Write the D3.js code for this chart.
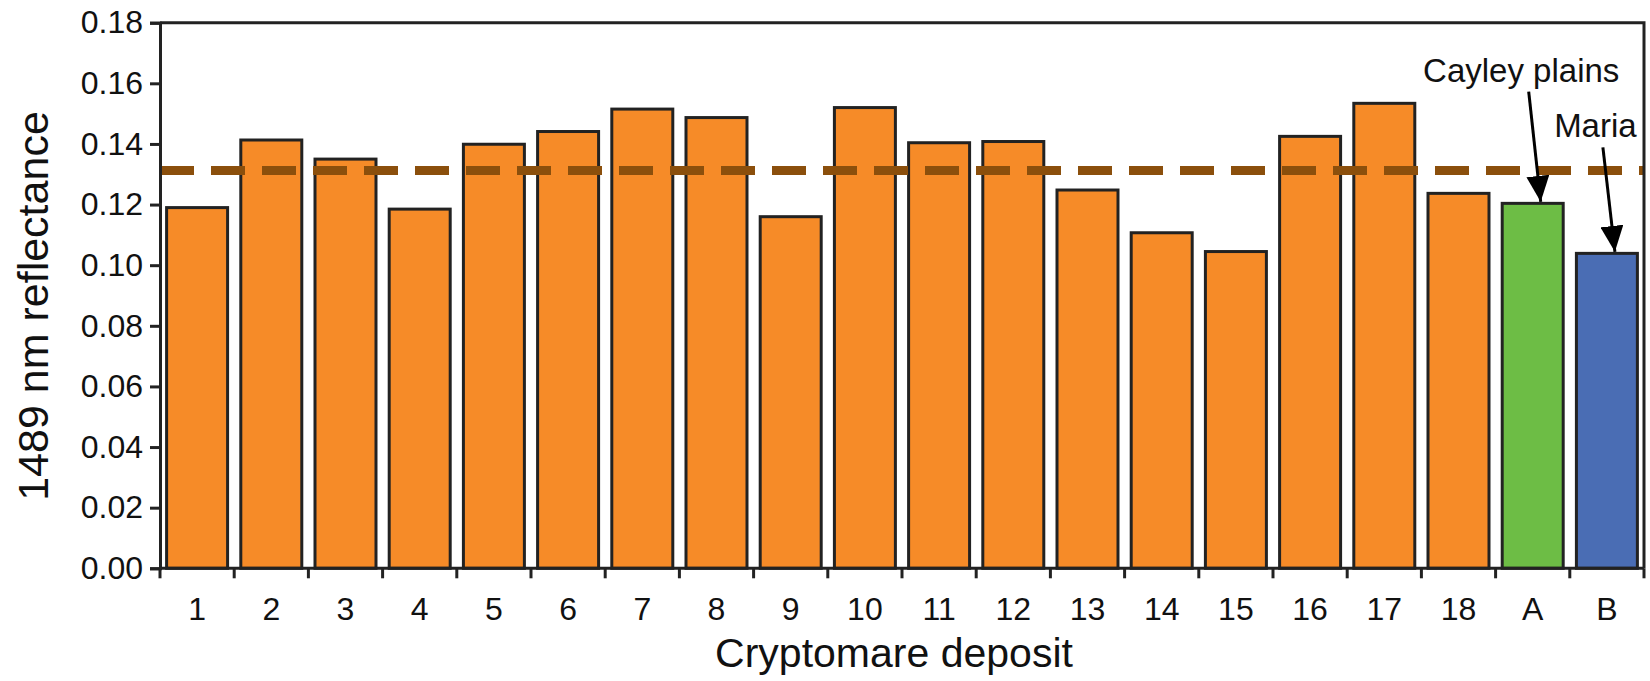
<!DOCTYPE html>
<html>
<head>
<meta charset="utf-8">
<script src="https://cdn.jsdelivr.net/npm/d3@7"></script>
<style>
  html, body { margin: 0; padding: 0; background: #fff; }
  svg { display: block; font-family: "Liberation Sans", Arial, Helvetica, sans-serif; }
</style>
</head>
<body>
<svg id="chart"></svg>
<script>
// 1489 nm reflectance per cryptomare deposit, plus Cayley plains (A) and maria (B)

const categories = ['1','2','3','4','5','6','7','8','9','10','11','12','13','14','15','16','17','18','A','B'];
const reflectance = [0.1190, 0.1413, 0.1350, 0.1185, 0.1399, 0.1441, 0.1515, 0.1487, 0.1160, 0.1520,
                     0.1404, 0.1408, 0.1248, 0.1107, 0.1045, 0.1425, 0.1534, 0.1237, 0.1204, 0.1039];
const yTicks = [0, 0.02, 0.04, 0.06, 0.08, 0.10, 0.12, 0.14, 0.16, 0.18];
const meanLine = 0.1312;
const annotations = [
    { key: 'A', label: 'Cayley plains' },
    { key: 'B', label: 'Maria' }
];

const COLORS = { deposit: '#f68b28', A: '#6dbd45', B: '#4a6db4', dash: '#8b4f0c', ink: '#222' };

const W = 1650, H = 681;
const MARGIN = { top: 22.7, right: 6, bottom: 112.7, left: 160 };

const svg = d3.select('#chart').attr('width', W).attr('height', H);

const x = d3.scaleBand()
    .domain(categories)
    .range([MARGIN.left, W - MARGIN.right])
    .paddingInner(0.178)
    .paddingOuter(0.089);

const y = d3.scaleLinear()
    .domain([0, 0.18])
    .range([H - MARGIN.bottom, MARGIN.top]);

const data = categories.map((c, i) => ({ cat: c, value: reflectance[i] }));
const fillFor = c => c === 'A' ? COLORS.A : c === 'B' ? COLORS.B : COLORS.deposit;

// Bars
svg.append('g')
    .selectAll('rect')
    .data(data)
    .join('rect')
    .attr('x', d => x(d.cat))
    .attr('y', d => y(d.value))
    .attr('width', x.bandwidth())
    .attr('height', d => y(0) - y(d.value))
    .attr('fill', d => fillFor(d.cat))
    .attr('stroke', COLORS.ink)
    .attr('stroke-width', 3);

// Dashed reference line
svg.append('line')
    .attr('x1', x.range()[0])
    .attr('x2', x.range()[1])
    .attr('y1', y(meanLine))
    .attr('y2', y(meanLine))
    .attr('stroke', COLORS.dash)
    .attr('stroke-width', 9)
    .attr('stroke-dasharray', '34,17');

// Frame (top + right)
const [x0, x1] = x.range();
svg.append('path')
    .attr('d', `M${x0},${y(0.18)}H${x1}V${y(0)}`)
    .attr('fill', 'none')
    .attr('stroke', COLORS.ink)
    .attr('stroke-width', 3);

// Y axis
const yAxis = svg.append('g')
    .attr('transform', `translate(${x0},0)`)
    .call(d3.axisLeft(y).tickValues(yTicks).tickFormat(d3.format('.2f')).tickSize(10).tickPadding(7));
yAxis.select('.domain').attr('stroke', COLORS.ink).attr('stroke-width', 3);
yAxis.selectAll('.tick line').attr('stroke', COLORS.ink).attr('stroke-width', 3);
yAxis.selectAll('.tick text')
    .attr('fill', '#111')
    .style('font-size', '32px');

// X axis: labels at band centres, ticks at band boundaries
const xAxis = svg.append('g')
    .attr('transform', `translate(0,${y(0)})`)
    .call(d3.axisBottom(x).tickSize(0).tickPadding(29));
xAxis.select('.domain').remove();
xAxis.selectAll('.tick text')
    .attr('fill', '#111')
    .style('font-size', '32px');

const bounds = categories.map(c => x(c) - x.step() * x.paddingInner() / 2).concat([x1]);
svg.append('g')
    .selectAll('line')
    .data(bounds)
    .join('line')
    .attr('x1', d => d).attr('x2', d => d)
    .attr('y1', y(0)).attr('y2', y(0) + 10)
    .attr('stroke', COLORS.ink)
    .attr('stroke-width', 3);
svg.append('line')
    .attr('x1', x0).attr('x2', x1)
    .attr('y1', y(0)).attr('y2', y(0))
    .attr('stroke', COLORS.ink)
    .attr('stroke-width', 3);

// Axis titles
svg.append('text')
    .attr('x', (x0 + x1) / 2 - 8)
    .attr('y', 667)
    .attr('text-anchor', 'middle')
    .attr('fill', '#111')
    .style('font-size', '41px')
    .text('Cryptomare deposit');

svg.append('text')
    .attr('transform', `translate(48,${306}) rotate(-90)`)
    .attr('text-anchor', 'middle')
    .attr('fill', '#111')
    .style('font-size', '43px')
    .text('1489 nm reflectance');

// Annotations with arrows
svg.append('defs').append('marker')
    .attr('id', 'arrowhead')
    .attr('markerUnits', 'userSpaceOnUse')
    .attr('viewBox', '0 0 26 23')
    .attr('refX', 26).attr('refY', 11.5)
    .attr('markerWidth', 26).attr('markerHeight', 23)
    .attr('orient', 'auto')
    .append('path')
    .attr('d', 'M0,0L26,11.5L0,23Z')
    .attr('fill', '#000');

const labelBaseline = { A: 81.7, B: 137.3 };
annotations.forEach(a => {
    const v = reflectance[categories.indexOf(a.key)];
    const cx = x(a.key) + x.bandwidth() / 2;
    svg.append('text')
        .attr('x', cx - 11.5)
        .attr('y', labelBaseline[a.key])
        .attr('text-anchor', 'middle')
        .attr('fill', '#111')
        .style('font-size', '33px')
        .text(a.label);
    svg.append('line')
        .attr('x1', cx - 4)
        .attr('y1', labelBaseline[a.key] + 10)
        .attr('x2', cx + 8)
        .attr('y2', y(v) - 1.5)
        .attr('stroke', '#000')
        .attr('stroke-width', 3)
        .attr('marker-end', 'url(#arrowhead)');
});
</script>
</body>
</html>
